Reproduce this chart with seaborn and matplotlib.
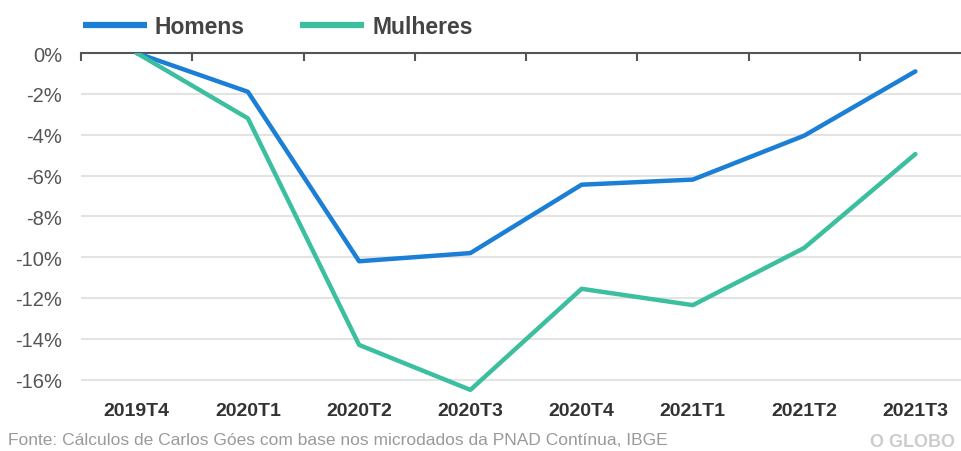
import matplotlib
matplotlib.use("Agg")
import matplotlib.pyplot as plt
import seaborn as sns
import pandas as pd
from matplotlib.ticker import FixedLocator, FuncFormatter
from matplotlib.lines import Line2D

categories = ["2019T4", "2020T1", "2020T2", "2020T3", "2020T4", "2021T1", "2021T2", "2021T3"]
homens = [0.0, -1.9, -10.2, -9.8, -6.45, -6.2, -4.05, -0.9]
mulheres = [0.0, -3.2, -14.3, -16.5, -11.55, -12.35, -9.55, -4.95]
series_names = ["Homens", "Mulheres"]
colors = {"Homens": "#1c7fd6", "Mulheres": "#3cbf9e"}
yticks = [0, -2, -4, -6, -8, -10, -12, -14, -16]
source = "Fonte: Cálculos de Carlos Góes com base nos microdados da PNAD Contínua, IBGE"
brand = "O GLOBO"

df = pd.DataFrame({
    "trimestre": categories * 2,
    "valor": homens + mulheres,
    "sexo": [series_names[0]] * len(categories) + [series_names[1]] * len(categories),
})

sns.set_theme(style="white")
plt.rcParams["font.family"] = ["Liberation Sans", "DejaVu Sans"]

fig = plt.figure(figsize=(9.61, 4.52), dpi=100)
ax = fig.add_axes([81 / 961, 1 - 397 / 452, 890 / 961, (397 - 54) / 452])

for y in yticks[1:]:
    ax.axhline(y, color="#e3e3e3", lw=1.5, zorder=0)

sns.lineplot(data=df, x="trimestre", y="valor", hue="sexo", palette=colors,
             lw=3.2, ax=ax, sort=False, legend=False, zorder=3)

ax.set_xlim(-0.5, len(categories) - 0.5)
ax.set_ylim(-16.8, 0)
ax.set_xlabel("")
ax.set_ylabel("")

for s in ["left", "right", "bottom"]:
    ax.spines[s].set_visible(False)
ax.spines["top"].set_color("#555555")
ax.spines["top"].set_linewidth(1.5)

ax.set_xticks(range(len(categories)))
ax.set_xticklabels(categories, fontsize=14, fontweight="bold", color="#333333")
ax.xaxis.set_minor_locator(FixedLocator([i - 0.5 for i in range(len(categories) + 1)]))
ax.tick_params(axis="x", which="major", length=0, pad=4, bottom=False, top=False)
ax.tick_params(axis="x", which="minor", top=True, bottom=False, direction="in",
               length=6, width=1.5, color="#555555")

ax.set_yticks(yticks)
ax.yaxis.set_major_formatter(FuncFormatter(lambda v, p: f"{int(round(v))}%"))
ax.tick_params(axis="y", length=0, pad=13.7, labelsize=14.5, labelcolor="#555555")

handles = [Line2D([0], [0], color=colors[n], lw=4.5, solid_capstyle="butt") for n in series_names]
leg = fig.legend(handles, series_names, loc="center left", bbox_to_anchor=(62 / 961, 1 - 28 / 452),
                 ncol=2, frameon=False, handlelength=2.8, handletextpad=0.35,
                 columnspacing=2.4, prop={"size": 16.5, "weight": "bold"})
for t in leg.get_texts():
    t.set_color("#444444")

fig.text(8 / 961, 1 - 441 / 452, source, fontsize=12.5, color="#9a9a9a", va="center", ha="left")
fig.text(955 / 961, 1 - 443 / 452, brand, fontsize=13, color="#cccccc", fontweight="bold",
         va="center", ha="right")

fig.savefig("out.png", dpi=100)
